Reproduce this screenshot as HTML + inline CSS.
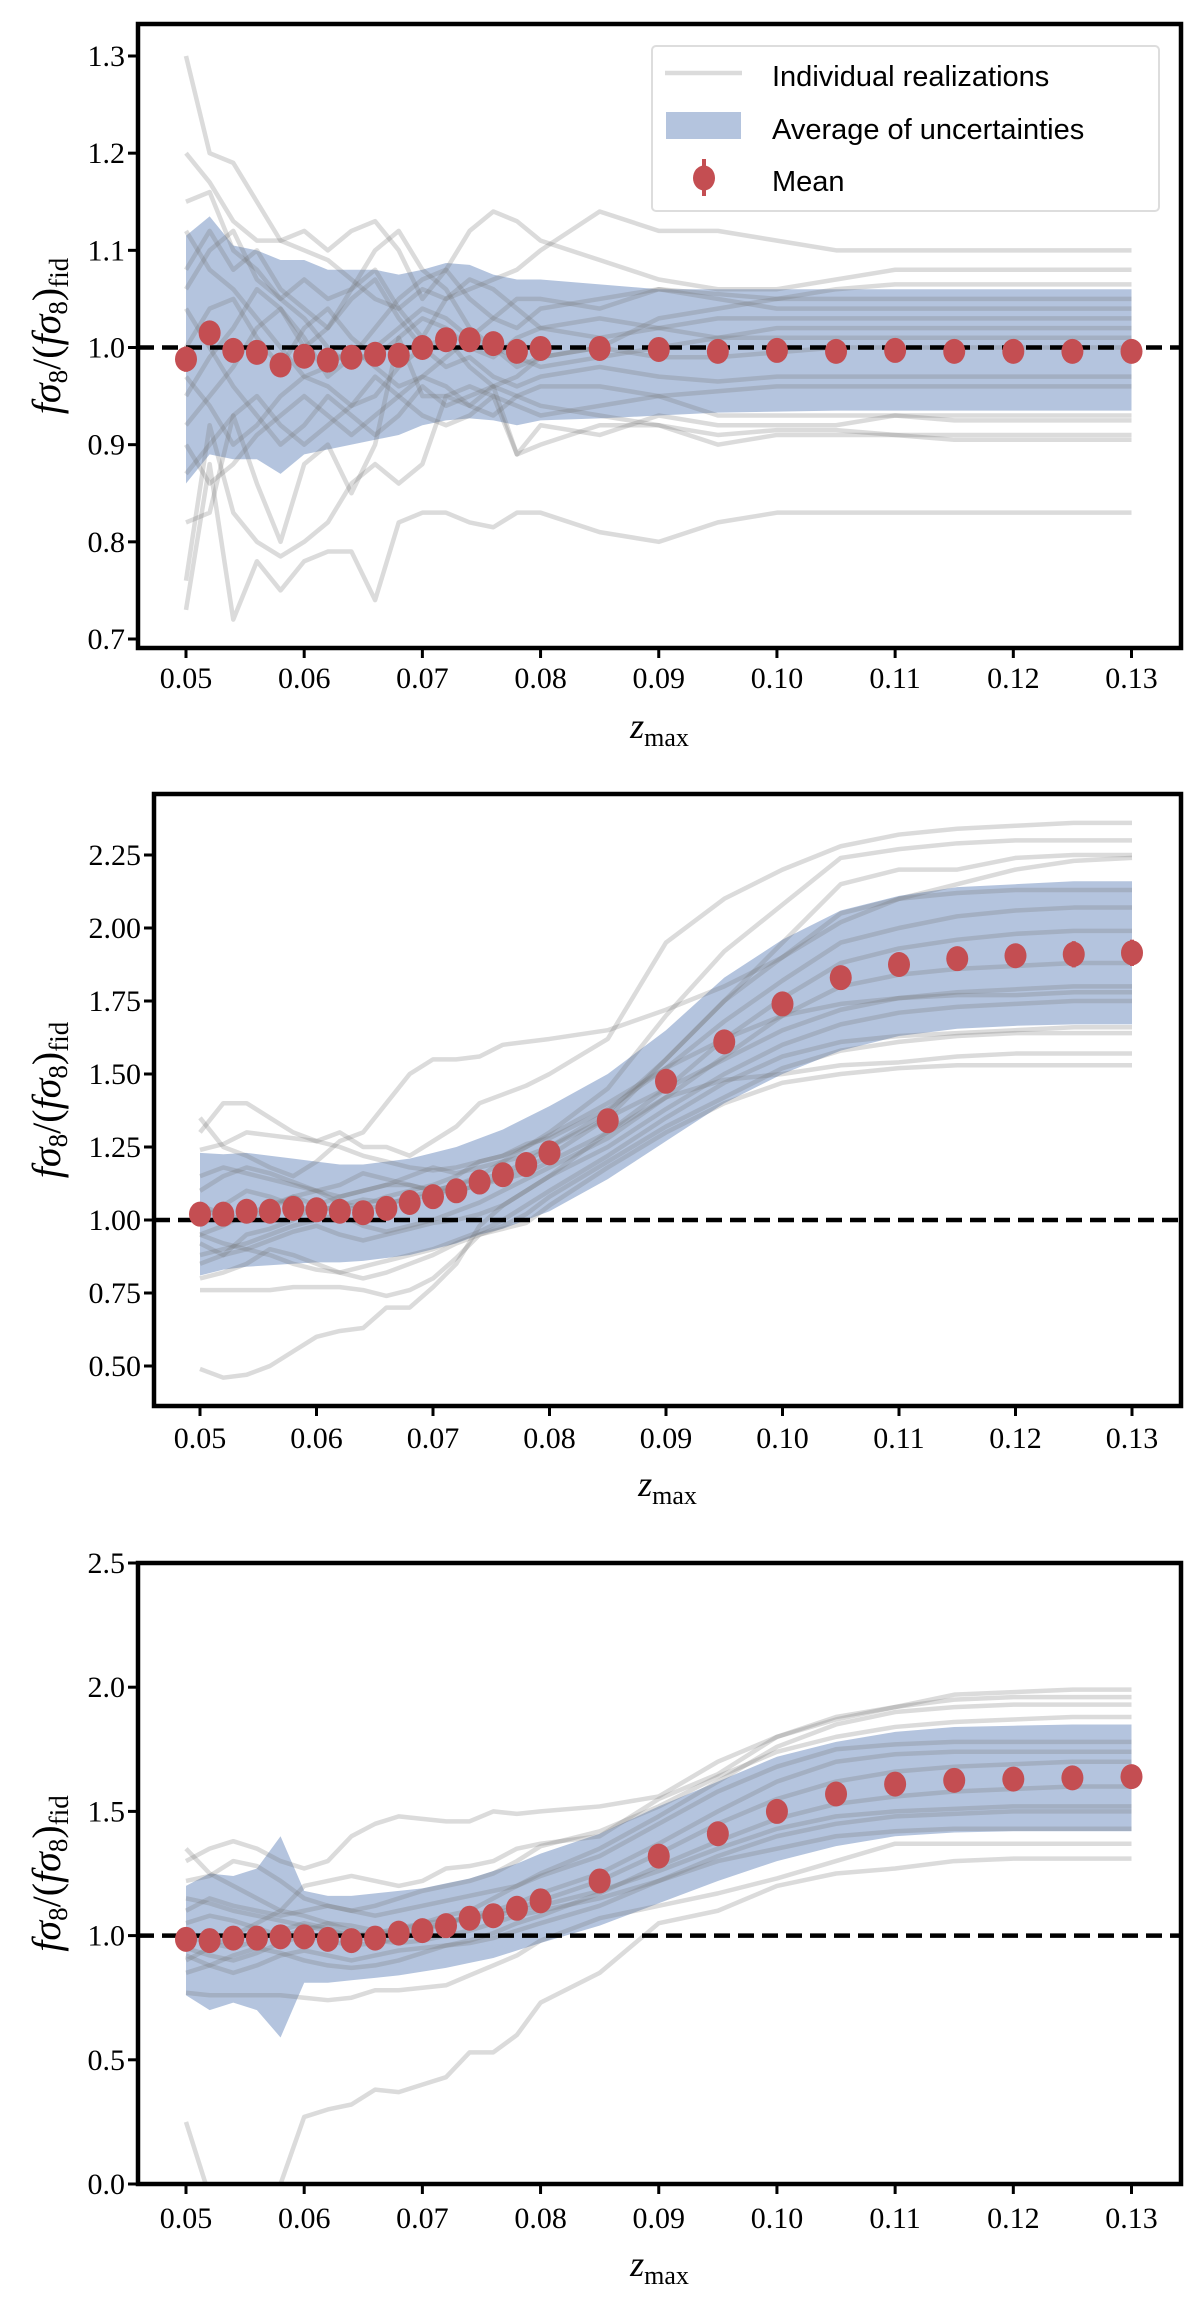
<!DOCTYPE html>
<html><head><meta charset="utf-8">
<style>
html,body{margin:0;padding:0;background:#fff;}
svg{display:block;}
text{font-family:"Liberation Serif",serif;fill:#000;}
.lg{font-family:"Liberation Sans",sans-serif;font-size:29px;}
</style></head>
<body>
<svg id="fig" width="1200" height="2302" viewBox="0 0 1200 2302" xmlns="http://www.w3.org/2000/svg"></svg>
<script>
const zVals=[0.050,0.052,0.054,0.056,0.058,0.060,0.062,0.064,0.066,0.068,0.070,0.072,0.074,0.076,0.078,0.080,0.085,0.090,0.095,0.100,0.105,0.110,0.115,0.120,0.125,0.130];
const xTicks=[0.05,0.06,0.07,0.08,0.09,0.10,0.11,0.12,0.13];
const xTickLabels=["0.05","0.06","0.07","0.08","0.09","0.10","0.11","0.12","0.13"];

// Panel 1
const p1Mean=[0.988,1.015,0.997,0.995,0.982,0.991,0.987,0.990,0.993,0.992,1.000,1.008,1.008,1.004,0.996,0.999,0.999,0.998,0.996,0.997,0.996,0.997,0.996,0.996,0.996,0.996];
const p1Err=[0.013,0.010,0.010,0.009,0.008,0.007,0.006,0.006,0.006,0.006,0.006,0.005,0.005,0.005,0.005,0.005,0.005,0.005,0.005,0.005,0.005,0.005,0.005,0.005,0.005,0.005];
const p1Upper=[1.115,1.135,1.105,1.10,1.09,1.09,1.08,1.08,1.08,1.075,1.08,1.087,1.085,1.075,1.07,1.07,1.065,1.06,1.06,1.06,1.06,1.06,1.06,1.06,1.06,1.06];
const p1Lower=[0.86,0.89,0.885,0.885,0.87,0.89,0.895,0.90,0.905,0.91,0.92,0.925,0.927,0.925,0.92,0.925,0.927,0.93,0.933,0.934,0.935,0.935,0.935,0.935,0.935,0.935];
const p1Real=[
[1.30,1.20,1.19,1.15,1.11,1.10,1.09,1.07,1.05,1.04,1.06,1.05,1.06,1.07,1.08,1.10,1.14,1.12,1.12,1.11,1.10,1.10,1.10,1.10,1.10,1.10],
[0.73,0.88,0.72,0.78,0.75,0.78,0.79,0.79,0.74,0.82,0.83,0.83,0.82,0.815,0.83,0.83,0.81,0.80,0.82,0.83,0.83,0.83,0.83,0.83,0.83,0.83],
[0.76,0.92,0.83,0.80,0.785,0.80,0.82,0.86,0.88,0.86,0.88,0.95,0.94,0.96,0.89,0.90,0.92,0.92,0.90,0.91,0.91,0.91,0.905,0.905,0.905,0.905],
[1.20,1.17,1.13,1.11,1.11,1.12,1.10,1.12,1.13,1.10,1.05,1.08,1.12,1.14,1.13,1.11,1.09,1.07,1.06,1.06,1.07,1.08,1.08,1.08,1.08,1.08],
[0.82,0.83,0.93,0.86,0.80,0.88,0.90,0.85,0.90,1.01,0.95,0.95,0.96,0.95,0.89,0.92,0.91,0.93,0.92,0.92,0.92,0.93,0.925,0.925,0.925,0.925],
[1.15,1.16,1.10,1.08,1.05,1.07,1.05,1.06,1.10,1.12,1.08,1.06,1.02,1.00,0.98,0.99,1.00,1.03,1.04,1.05,1.06,1.065,1.065,1.065,1.065,1.065],
[1.08,1.12,1.08,1.10,1.06,1.04,1.02,1.05,1.07,1.03,1.00,0.98,0.99,0.97,0.96,0.97,0.98,0.97,0.965,0.97,0.97,0.97,0.97,0.97,0.97,0.97],
[0.92,0.95,0.98,1.02,1.04,1.01,0.97,0.99,1.02,1.05,1.07,1.08,1.05,1.03,1.02,1.04,1.05,1.06,1.05,1.04,1.04,1.04,1.04,1.04,1.04,1.04],
[1.04,1.00,0.96,0.93,0.90,0.92,0.95,0.93,0.91,0.93,0.96,0.94,0.95,0.96,0.95,0.94,0.93,0.92,0.91,0.915,0.915,0.91,0.91,0.91,0.91,0.91],
[0.95,0.99,1.02,1.06,1.04,1.00,1.02,1.06,1.08,1.04,1.01,1.05,1.07,1.06,1.04,1.02,1.01,1.02,1.03,1.03,1.03,1.03,1.03,1.03,1.03,1.03],
[1.12,1.08,1.06,1.03,1.00,0.97,0.98,1.00,0.98,0.96,0.97,0.99,1.01,1.00,0.99,0.98,0.99,1.00,1.01,1.02,1.02,1.02,1.02,1.02,1.02,1.02],
[0.87,0.90,0.93,0.95,0.92,0.90,0.92,0.94,0.97,0.95,0.93,0.92,0.93,0.95,0.94,0.93,0.94,0.95,0.955,0.96,0.96,0.96,0.96,0.96,0.96,0.96],
[1.00,1.04,1.05,1.01,0.98,1.02,1.04,1.01,0.99,1.01,1.03,1.02,1.00,0.99,1.01,1.02,1.03,1.02,1.01,1.01,1.01,1.01,1.01,1.01,1.01,1.01],
[0.97,0.94,0.90,0.92,0.95,0.97,0.96,0.94,0.95,0.98,1.00,1.01,0.98,0.96,0.97,0.99,1.00,0.99,0.99,0.995,1.00,1.00,1.00,1.00,1.00,1.00],
[1.06,1.10,1.12,1.07,1.05,1.03,1.00,0.98,1.00,1.02,1.04,1.03,1.01,1.03,1.05,1.05,1.04,1.06,1.055,1.05,1.05,1.05,1.05,1.05,1.05,1.05],
[0.90,0.86,0.88,0.91,0.93,0.95,0.93,0.91,0.93,0.95,0.97,0.96,0.94,0.93,0.95,0.96,0.96,0.95,0.93,0.93,0.93,0.93,0.93,0.93,0.93,0.93]];
const p1YTicks=[0.7,0.8,0.9,1.0,1.1,1.2,1.3];
const p1YLabels=["0.7","0.8","0.9","1.0","1.1","1.2","1.3"];

// Panel 2
const p2Mean=[1.02,1.02,1.03,1.03,1.04,1.035,1.03,1.025,1.04,1.06,1.08,1.10,1.13,1.155,1.19,1.23,1.34,1.475,1.61,1.74,1.83,1.875,1.895,1.905,1.91,1.915];
const p2Err=[0.01,0.01,0.01,0.01,0.01,0.01,0.01,0.01,0.01,0.01,0.01,0.01,0.01,0.01,0.01,0.01,0.015,0.02,0.02,0.025,0.03,0.035,0.04,0.04,0.045,0.045];
const p2Upper=[1.23,1.225,1.23,1.22,1.21,1.20,1.19,1.19,1.20,1.21,1.23,1.25,1.28,1.31,1.35,1.39,1.50,1.65,1.83,1.96,2.06,2.11,2.14,2.15,2.16,2.16];
const p2Lower=[0.81,0.83,0.84,0.845,0.85,0.855,0.855,0.86,0.87,0.88,0.90,0.92,0.95,0.97,1.00,1.03,1.14,1.27,1.40,1.50,1.58,1.63,1.655,1.665,1.67,1.67];
const p2Real=[
[0.49,0.46,0.47,0.50,0.55,0.60,0.62,0.63,0.70,0.70,0.77,0.85,0.98,1.05,1.10,1.15,1.30,1.42,1.48,1.50,1.53,1.54,1.56,1.57,1.57,1.57],
[0.76,0.76,0.76,0.76,0.77,0.77,0.77,0.76,0.74,0.76,0.80,0.87,0.95,0.97,0.99,1.05,1.18,1.30,1.40,1.47,1.50,1.52,1.53,1.53,1.53,1.53],
[1.35,1.25,1.22,1.18,1.15,1.20,1.27,1.30,1.40,1.50,1.55,1.55,1.56,1.60,1.61,1.62,1.65,1.72,1.80,1.90,2.02,2.10,2.15,2.20,2.23,2.24],
[1.30,1.40,1.40,1.35,1.30,1.27,1.30,1.25,1.25,1.22,1.27,1.32,1.40,1.43,1.46,1.50,1.62,1.95,2.10,2.20,2.28,2.32,2.34,2.35,2.36,2.36],
[0.92,0.88,0.95,0.97,1.00,1.05,1.08,1.10,1.12,1.12,1.10,1.12,1.15,1.20,1.25,1.30,1.45,1.70,1.92,2.08,2.24,2.27,2.29,2.30,2.30,2.30],
[1.00,1.05,1.10,1.08,1.05,1.03,1.05,1.07,1.06,1.07,1.09,1.10,1.12,1.15,1.18,1.22,1.35,1.55,1.75,1.95,2.15,2.20,2.20,2.24,2.25,2.25],
[1.10,1.15,1.18,1.16,1.13,1.10,1.08,1.10,1.12,1.15,1.18,1.16,1.18,1.20,1.22,1.25,1.37,1.55,1.75,1.90,2.05,2.10,2.12,2.13,2.13,2.13],
[0.95,0.98,1.02,1.05,1.08,1.05,1.03,1.05,1.08,1.10,1.12,1.15,1.20,1.22,1.26,1.28,1.38,1.52,1.68,1.82,1.95,2.00,2.04,2.06,2.07,2.07],
[1.15,1.18,1.16,1.14,1.12,1.10,1.12,1.16,1.14,1.12,1.10,1.10,1.12,1.14,1.16,1.20,1.30,1.45,1.62,1.76,1.88,1.93,1.96,1.98,1.99,1.99],
[0.88,0.90,0.92,0.95,0.98,1.00,1.02,0.98,0.96,0.98,1.00,1.03,1.06,1.10,1.14,1.18,1.28,1.42,1.56,1.70,1.80,1.84,1.86,1.87,1.88,1.88],
[1.05,1.02,1.00,1.04,1.08,1.10,1.06,1.04,1.05,1.08,1.10,1.12,1.14,1.16,1.20,1.25,1.35,1.45,1.55,1.65,1.72,1.76,1.78,1.79,1.80,1.80],
[0.95,0.92,0.90,0.93,0.96,0.98,0.95,0.93,0.95,0.97,0.99,1.00,1.02,1.05,1.10,1.15,1.25,1.38,1.50,1.60,1.67,1.71,1.73,1.74,1.75,1.75],
[0.85,0.88,0.90,0.88,0.85,0.83,0.82,0.84,0.86,0.88,0.90,0.93,0.96,1.00,1.05,1.10,1.22,1.35,1.47,1.56,1.61,1.63,1.64,1.65,1.66,1.66],
[1.24,1.26,1.30,1.29,1.28,1.27,1.25,1.22,1.20,1.18,1.17,1.18,1.20,1.22,1.25,1.29,1.40,1.52,1.62,1.70,1.74,1.76,1.77,1.77,1.78,1.78],
[0.80,0.82,0.85,0.90,0.88,0.85,0.82,0.80,0.82,0.85,0.88,0.92,0.95,0.98,1.02,1.08,1.20,1.32,1.42,1.52,1.58,1.61,1.63,1.64,1.64,1.64]];
const p2YTicks=[0.5,0.75,1.0,1.25,1.5,1.75,2.0,2.25];
const p2YLabels=["0.50","0.75","1.00","1.25","1.50","1.75","2.00","2.25"];

// Panel 3
const p3Mean=[0.985,0.98,0.99,0.99,0.995,0.995,0.985,0.98,0.99,1.01,1.02,1.04,1.07,1.08,1.11,1.14,1.22,1.32,1.41,1.50,1.57,1.61,1.625,1.63,1.635,1.64];
const p3Err=[0.01,0.01,0.01,0.01,0.01,0.01,0.01,0.01,0.01,0.01,0.01,0.01,0.01,0.01,0.01,0.01,0.01,0.01,0.01,0.01,0.01,0.01,0.01,0.01,0.01,0.01];
const p3Upper=[1.20,1.25,1.24,1.27,1.40,1.18,1.16,1.16,1.17,1.18,1.19,1.21,1.23,1.26,1.29,1.33,1.41,1.52,1.62,1.72,1.78,1.82,1.84,1.845,1.85,1.85];
const p3Lower=[0.76,0.70,0.73,0.70,0.59,0.81,0.81,0.82,0.83,0.84,0.855,0.87,0.89,0.91,0.94,0.97,1.04,1.13,1.22,1.30,1.36,1.40,1.415,1.42,1.42,1.42];
const p3Real=[
[0.25,-0.05,-0.2,-0.2,0.0,0.27,0.30,0.32,0.38,0.37,0.40,0.43,0.53,0.53,0.60,0.73,0.85,1.05,1.10,1.20,1.25,1.27,1.30,1.31,1.31,1.31],
[1.30,1.35,1.38,1.35,1.30,1.27,1.30,1.40,1.45,1.48,1.47,1.46,1.46,1.50,1.49,1.50,1.52,1.56,1.70,1.80,1.88,1.92,1.95,1.96,1.96,1.96],
[1.35,1.25,1.20,1.15,1.10,1.20,1.22,1.24,1.22,1.20,1.22,1.27,1.28,1.30,1.35,1.37,1.40,1.55,1.65,1.80,1.87,1.92,1.97,1.98,1.99,1.99],
[0.77,0.76,0.76,0.76,0.76,0.75,0.74,0.75,0.78,0.78,0.79,0.80,0.84,0.88,0.92,0.98,1.07,1.12,1.17,1.23,1.30,1.37,1.37,1.37,1.37,1.37],
[0.90,0.95,1.00,1.05,1.10,1.08,1.05,1.02,1.00,1.02,1.05,1.08,1.10,1.15,1.20,1.25,1.35,1.48,1.62,1.76,1.85,1.90,1.92,1.93,1.93,1.93],
[1.10,1.15,1.12,1.10,1.08,1.10,1.12,1.10,1.08,1.10,1.12,1.14,1.16,1.18,1.20,1.24,1.32,1.45,1.58,1.68,1.75,1.77,1.78,1.78,1.78,1.78],
[0.95,0.92,0.90,0.93,0.97,1.00,0.98,0.96,0.97,0.99,1.02,1.05,1.08,1.10,1.13,1.17,1.25,1.37,1.50,1.62,1.70,1.73,1.74,1.74,1.74,1.74],
[1.05,1.08,1.06,1.03,1.00,1.02,1.05,1.04,1.02,1.01,1.03,1.05,1.07,1.09,1.11,1.14,1.22,1.33,1.45,1.55,1.62,1.66,1.68,1.69,1.70,1.70],
[0.85,0.88,0.92,0.95,0.93,0.90,0.88,0.87,0.88,0.90,0.93,0.96,0.98,1.01,1.05,1.08,1.17,1.28,1.38,1.47,1.53,1.56,1.58,1.59,1.60,1.60],
[1.15,1.13,1.10,1.08,1.06,1.04,1.02,1.00,1.01,1.03,1.05,1.06,1.07,1.08,1.10,1.12,1.18,1.26,1.35,1.43,1.48,1.50,1.51,1.52,1.52,1.52],
[0.92,0.88,0.85,0.88,0.92,0.94,0.92,0.90,0.92,0.94,0.95,0.96,0.97,0.99,1.02,1.05,1.12,1.22,1.32,1.40,1.45,1.48,1.49,1.50,1.50,1.50],
[1.00,0.97,0.95,0.98,1.02,1.05,1.03,1.00,0.98,0.97,0.98,1.00,1.02,1.05,1.08,1.10,1.15,1.22,1.30,1.35,1.40,1.42,1.43,1.43,1.43,1.43],
[1.22,1.24,1.30,1.28,1.22,1.15,1.12,1.10,1.12,1.15,1.18,1.20,1.22,1.25,1.30,1.36,1.42,1.52,1.64,1.74,1.80,1.84,1.86,1.87,1.88,1.88]];
const p3YTicks=[0.0,0.5,1.0,1.5,2.0,2.5];
const p3YLabels=["0.0","0.5","1.0","1.5","2.0","2.5"];

const NS="http://www.w3.org/2000/svg";
const svg=document.getElementById('fig');
function mk(tag,attrs,parent){const e=document.createElementNS(NS,tag);for(const k in attrs)e.setAttribute(k,attrs[k]);(parent||svg).appendChild(e);return e;}

function panel(idx,L,R,T,B,x0px,x1px,yMin,yMax,yPx0,yPx1,mean,err,up,lo,real,yt,ytl,xlblY,xTitleY,legend){
  const g=mk('g',{});
  
  
  const sx=v=>x0px+(v-0.05)/(0.13-0.05)*(x1px-x0px);
  const sy=v=>yPx0+(v-yMin)/(yMax-yMin)*(yPx1-yPx0);
  const cid='clip'+idx;
  const cp=mk('clipPath',{id:cid},g);mk('rect',{x:L,y:T,width:R-L,height:B-T},cp);
  const plot=mk('g',{'clip-path':'url(#'+cid+')'},g);
  let d='M'+zVals.map((z,i)=>sx(z)+','+sy(up[i])).join(' L');
  for(let i=zVals.length-1;i>=0;i--)d+=' L'+sx(zVals[i])+','+sy(lo[i]);
  const band=mk('path',{d:d+'Z',fill:'rgb(76,114,176)','fill-opacity':'0.42',stroke:'none'},plot);
  
  
  real.forEach((r,k)=>{
    const pl=mk('polyline',{points:zVals.map((z,i)=>sx(z)+','+sy(r[i])).join(' '),fill:'none',stroke:'rgb(110,110,110)','stroke-opacity':'0.25','stroke-width':'4.5','stroke-linejoin':'round'},plot);
    
    
  });
  const dl=mk('line',{x1:L,x2:R,y1:sy(1),y2:sy(1),stroke:'#000','stroke-width':'4.5','stroke-dasharray':'16,8'},plot);
  
  
  zVals.forEach((z,i)=>{
    const e=mk('line',{x1:sx(z),x2:sx(z),y1:sy(mean[i]-err[i]),y2:sy(mean[i]+err[i]),stroke:'#c44e52','stroke-width':'4'},plot);
    
    
    const c=mk('ellipse',{cx:sx(z),cy:sy(mean[i]),rx:11,ry:12.5,fill:'#c44e52'},plot);
    
    
  });
  const fr=mk('rect',{x:L,y:T,width:R-L,height:B-T,fill:'none',stroke:'#000','stroke-width':'4.5'},g);
  
  
  xTicks.forEach((t,i)=>{
    mk('line',{x1:sx(t),x2:sx(t),y1:B,y2:B+10,stroke:'#000','stroke-width':'3'},g);
    const tx=mk('text',{x:sx(t),y:xlblY,'text-anchor':'middle','font-size':'30'},g);
    tx.textContent=xTickLabels[i];
    
    
  });
  yt.forEach((t,i)=>{
    mk('line',{x1:L-10,x2:L,y1:sy(t),y2:sy(t),stroke:'#000','stroke-width':'3'},g);
    const tx=mk('text',{x:L-13,y:sy(t)+10,'text-anchor':'end','font-size':'30'},g);
    tx.textContent=ytl[i];
    
    
  });
  const xt=mk('text',{x:(L+R)/2,y:xTitleY,'text-anchor':'middle','font-size':'36','font-style':'italic'},g);
  xt.innerHTML='z<tspan font-style="normal" font-size="26" dy="8">max</tspan>';
  
  
  const cy=(T+B)/2;
  const yt2=mk('text',{x:0,y:0,'text-anchor':'middle','font-size':'40','font-style':'italic',transform:'translate(60,'+cy+') rotate(-90)'},g);
  yt2.innerHTML='fσ<tspan font-style="normal" font-size="27" dy="7">8</tspan><tspan dy="-7" font-style="normal">/(</tspan>fσ<tspan font-style="normal" font-size="27" dy="7">8</tspan><tspan dy="-7" font-style="normal">)</tspan><tspan font-style="normal" font-size="27" dy="8">fid</tspan>';
  
  
  if(legend){
    const lg=mk('g',{},g);
    
    
    mk('rect',{x:652,y:46,width:507,height:165,rx:4,fill:'#fff','fill-opacity':'0.85',stroke:'#ddd','stroke-width':'2'},lg);
    mk('line',{x1:665,x2:742,y1:73,y2:73,stroke:'rgb(110,110,110)','stroke-opacity':'0.25','stroke-width':'4.5'},lg);
    mk('rect',{x:666,y:112,width:75,height:27,fill:'rgb(76,114,176)','fill-opacity':'0.42'},lg);
    mk('line',{x1:704,x2:704,y1:159,y2:196,stroke:'#c44e52','stroke-width':'4'},lg);
    mk('ellipse',{cx:704,cy:178,rx:11,ry:12.5,fill:'#c44e52'},lg);
    [['Individual realizations',84,'legend-entry-realizations'],['Average of uncertainties',137,'legend-entry-uncertainties'],['Mean',189,'legend-entry-mean']].forEach(a=>{
      const t=mk('text',{x:772,y:a[1]+2,class:'lg'},lg);t.textContent=a[0];
      
      
    });
  }
}
panel(1,138,1181,24,648,186,1131.5,0.7,1.3,639,56,p1Mean,p1Err,p1Upper,p1Lower,p1Real,p1YTicks,p1YLabels,688,738,true);
panel(2,154,1181,794,1406,200,1132,0.5,2.25,1366,855,p2Mean,p2Err,p2Upper,p2Lower,p2Real,p2YTicks,p2YLabels,1448,1496,false);
panel(3,138,1181,1563,2184,186,1131.5,0.0,2.5,2184,1563,p3Mean,p3Err,p3Upper,p3Lower,p3Real,p3YTicks,p3YLabels,2228,2276,false);
</script>
</body></html>
